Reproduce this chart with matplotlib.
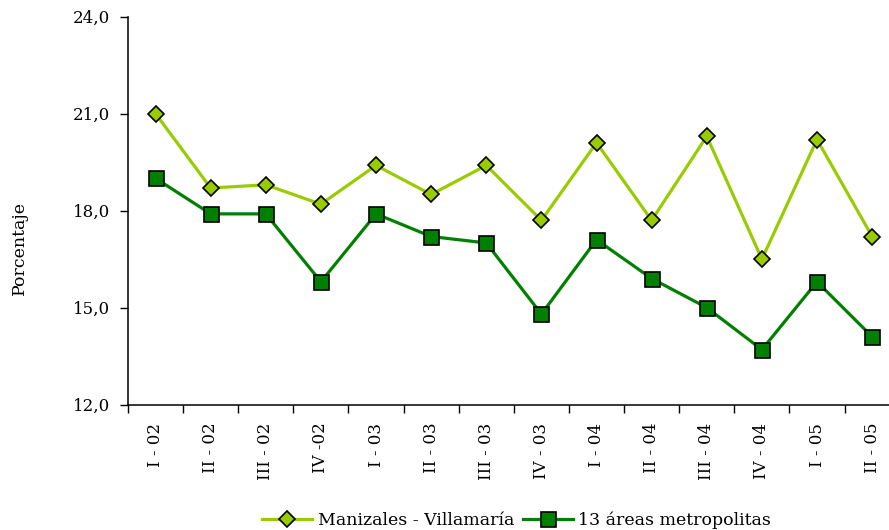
import matplotlib
matplotlib.use("Agg")
import matplotlib.pyplot as plt
from matplotlib.ticker import FixedLocator, FuncFormatter

categories = ["I - 02", "II - 02", "III - 02", "IV -02", "I - 03", "II - 03", "III - 03",
              "IV - 03", "I - 04", "II - 04", "III - 04", "IV - 04", "I - 05", "II - 05"]
manizales = [21.0, 18.7, 18.8, 18.2, 19.4, 18.5, 19.4, 17.7, 20.1, 17.7, 20.3, 16.5, 20.2, 17.2]
areas13 = [19.0, 17.9, 17.9, 15.8, 17.9, 17.2, 17.0, 14.8, 17.1, 15.9, 15.0, 13.7, 15.8, 14.1]
yticks = [12, 15, 18, 21, 24]

plt.rcParams['font.family'] = ['DejaVu Serif']

fig = plt.figure(figsize=(8.89, 5.30), dpi=100)
ax = fig.add_axes([128/889, 1 - 404.6/530, (899.7-128)/889, (404.6-16.7)/530])

x = list(range(len(categories)))
ax.plot(x, manizales, color="#99CC00", lw=2.3, marker="D", ms=8.6,
        mfc="#99CC00", mec="black", mew=1.2, label="Manizales - Villamaría", zorder=3)
ax.plot(x, areas13, color="#008000", lw=2.3, marker="s", ms=10.8,
        mfc="#008000", mec="black", mew=1.2, label="13 áreas metropolitas", zorder=3)

ax.set_xlim(-0.5, len(categories) - 0.5)
ax.set_ylim(12, 24)
ax.set_yticks(yticks)
ax.yaxis.set_major_formatter(FuncFormatter(lambda v, p: f"{v:.1f}".replace(".", ",")))

ax.xaxis.set_major_locator(FixedLocator([i - 0.5 for i in range(len(categories) + 1)]))
ax.xaxis.set_major_formatter(FuncFormatter(lambda v, p: ""))
ax.xaxis.set_minor_locator(FixedLocator(x))
ax.set_xticklabels(categories, minor=True, rotation=90, va="top", ha="center")
ax.tick_params(axis="x", which="minor", length=0, pad=13, labelsize=12)
ax.tick_params(axis="x", which="major", length=6, width=1, direction="out")
ax.tick_params(axis="y", length=6, width=1, direction="out", pad=7, labelsize=12)

for s in ["top", "right"]:
    ax.spines[s].set_visible(False)
for s in ["left", "bottom"]:
    ax.spines[s].set_linewidth(1.1)

fig.text(19/889, 1 - 248/530, "Porcentaje", rotation=90, ha="center", va="center", fontsize=12.5)

fig.legend(loc="center", bbox_to_anchor=(0.581, 0.019), ncol=2, frameon=False,
           fontsize=12.5, handlelength=2.9, handletextpad=0.3, columnspacing=0.5,
           borderpad=0, borderaxespad=0)

fig.savefig("out.png", dpi=100)
